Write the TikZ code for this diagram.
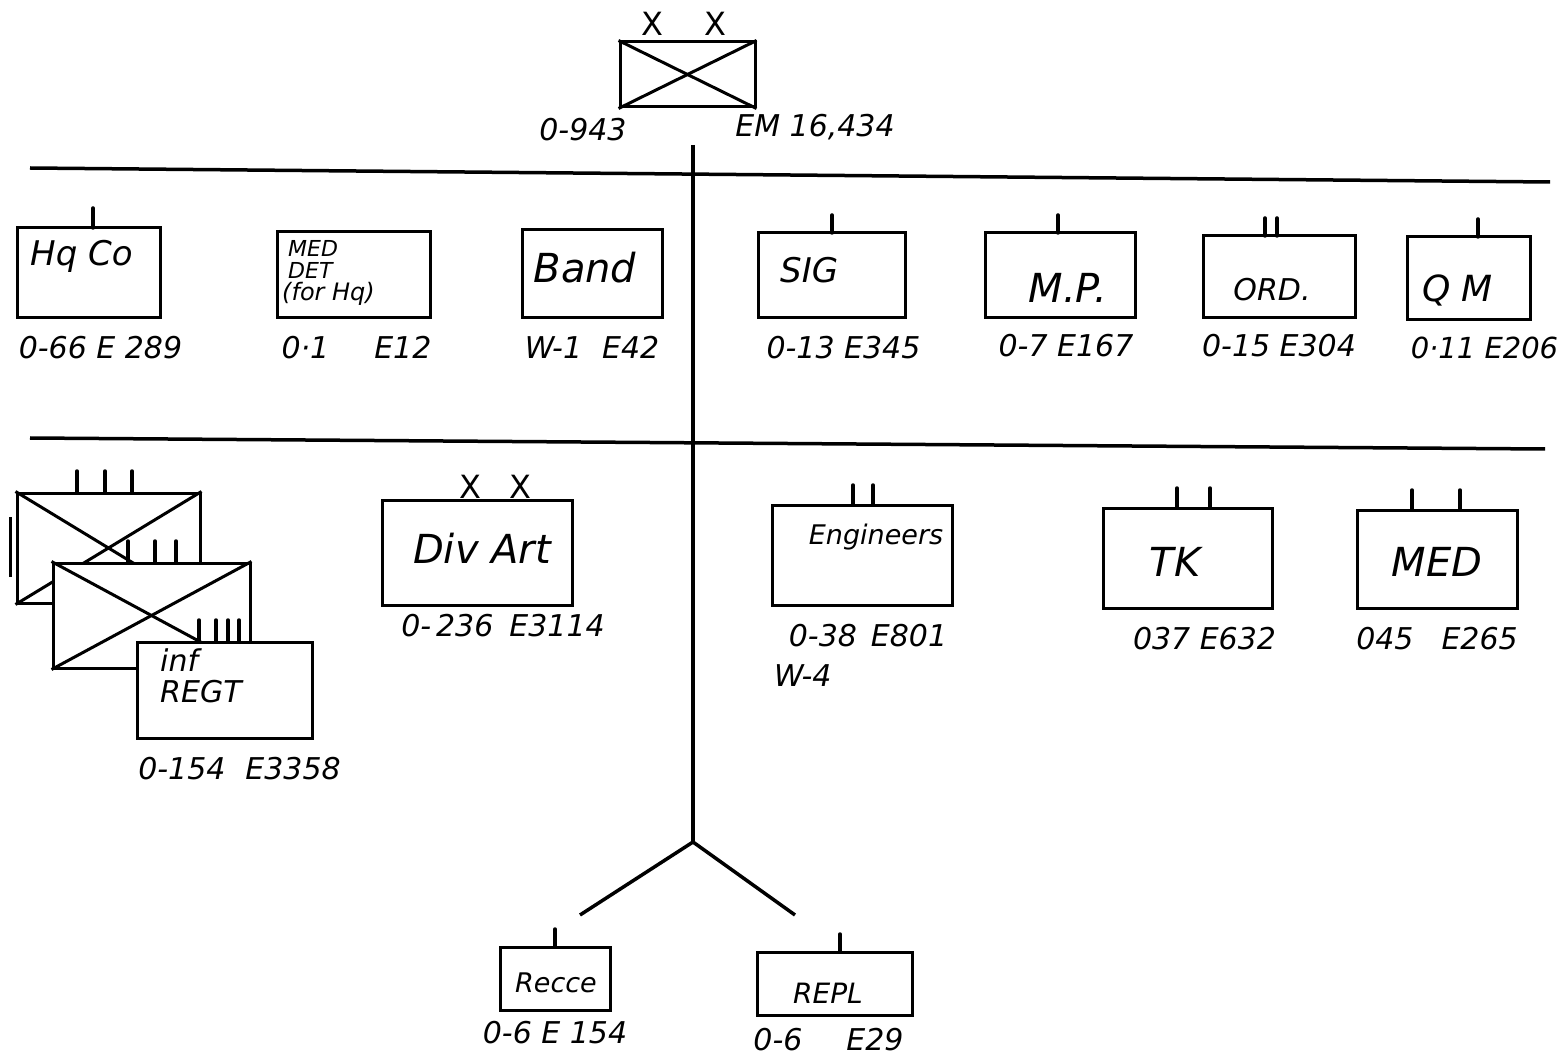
\documentclass[tikz,border=0pt]{standalone}
\usepackage{fontspec}
\setmainfont{DejaVu Sans}
\usetikzlibrary{positioning}
\tikzset{
	unit/.style={
		rectangle,
		draw=black,
		line width=3pt,
		fill=white,
		inner sep=0pt
	},
	boxtext/.style={
		font=\fontsize{36}{40}\selectfont\itshape,
		inner sep=0pt,
		align=left
	},
	smalltext/.style={
		font=\fontsize{22}{22}\selectfont\itshape,
		inner sep=0pt,
		align=left
	},
	strength/.style={
		font=\fontsize{30}{34}\selectfont\itshape,
		inner sep=0pt
	},
	echelon/.style={
		font=\fontsize{32}{34}\selectfont,
		inner sep=0pt
	},
	bar/.style={line width=3.5pt},
	tick/.style={line width=3.5pt, line cap=round},
	line/.style={line width=3pt}
}

\begin{document}
\begin{tikzpicture}[x=1pt, y=-1pt]
	\useasboundingbox[fill=white] (0,0) rectangle (1564,1056);

	% Division
	\node (div) [unit, minimum width=135pt, minimum height=65pt] at (687.5,74.5) {};
	\draw [line] (div.north west) -- (div.south east);
	\draw [line] (div.south west) -- (div.north east);
	\node (divx1) [echelon] at (652,24) {X};
	\node (divx2) [echelon] at (715,24) {X};
	\node (divoff) [strength] at (583,130) {0-943};
	\node (divem) [strength] at (815,127) {EM 16,434};

	% Bars and trunk
	\coordinate (bar1w) at (30,168);
	\coordinate (bar1e) at (1550,182);
	\coordinate (bar2w) at (30,438);
	\coordinate (bar2e) at (1545,449);
	\coordinate (trunk) at (693,145);
	\coordinate (fork) at (693,842);
	\coordinate (forkl) at (580,915);
	\coordinate (forkr) at (795,915);
	\draw [bar] (bar1w) -- (bar1e);
	\draw [bar] (bar2w) -- (bar2e);
	\draw [bar] (trunk) -- (fork);
	\draw [bar] (fork) -- (forkl);
	\draw [bar] (fork) -- (forkr);

	% Special troops
	\node (hqco) [unit, minimum width=143pt, minimum height=90pt] at (88.5,273) {};
	\draw [tick] (93,228) -- ++(0,-20);
	\node (hqcot) [boxtext, font=\fontsize{34}{38}\selectfont\itshape, anchor=west] at (30,256) {Hq Co};
	\node (hqcos) [strength, below=17pt of hqco, xshift=12pt] {0-66 E 289};

	\node (meddet) [unit, minimum width=153pt, minimum height=86pt] at (353.5,275) {};
	\node (meddett) [smalltext, anchor=north west] at (288,240) {MED\\DET\\\hspace{-6pt}{\fontsize{24}{22}\selectfont(for Hq)}};
	\node (meddets) [strength, below=17pt of meddet, xshift=3pt] {0·1\hspace{45pt}E12};

	\node (band) [unit, minimum width=140pt, minimum height=88pt] at (592,274) {};
	\node (bandt) [boxtext, font=\fontsize{40}{44}\selectfont\itshape] at (585,268) {Band};
	\node (bands) [strength, below=17pt of band] {W-1\hspace{20pt}E42};

	\node (sig) [unit, minimum width=147pt, minimum height=85pt] at (831.5,275.5) {};
	\draw [tick] (832,233) -- ++(0,-18);
	\node (sigt) [boxtext, font=\fontsize{34}{38}\selectfont\itshape, anchor=west] at (780,270) {SIG};
	\node (sigs) [strength, below=17pt of sig, xshift=12pt] {0-13 E345};

	\node (mp) [unit, minimum width=150pt, minimum height=85pt] at (1060,275.5) {};
	\draw [tick] (1058,233) -- ++(0,-18);
	\node (mpt) [boxtext, font=\fontsize{40}{44}\selectfont\itshape] at (1068,288) {M.P.};
	\node (mps) [strength, below=15pt of mp, xshift=6pt] {0-7 E167};

	\node (ord) [unit, minimum width=152pt, minimum height=82pt] at (1279,277) {};
	\draw [tick] (1265,236) -- ++(0,-18);
	\draw [tick] (1277,236) -- ++(0,-18);
	\node (ordt) [boxtext, font=\fontsize{30}{34}\selectfont\itshape] at (1272,290) {ORD.};
	\node (ords) [strength, below=15pt of ord] {0-15 E304};

	\node (qm) [unit, minimum width=123pt, minimum height=83pt] at (1468.5,278.5) {};
	\draw [tick] (1478,237) -- ++(0,-18);
	\node (qmt) [boxtext, anchor=west] at (1422,290) {Q M};
	\node (qms) [strength, font=\fontsize{29}{34}\selectfont\itshape, below=15pt of qm, xshift=16pt] {0·11 E206};

	% Infantry regiments
	\draw [line] (10,517) -- (10,577);
	\node (regt1) [unit, minimum width=183pt, minimum height=110pt] at (108.5,548) {};
	\draw [line] (regt1.north west) -- (regt1.south east);
	\draw [line] (regt1.south west) -- (regt1.north east);
	\foreach \x in {77,105,132}
		\draw [tick] (\x,493) -- ++(0,-22);
	\node (regt2) [unit, minimum width=197pt, minimum height=105pt] at (151.5,615.5) {};
	\draw [line] (regt2.north west) -- (regt2.south east);
	\draw [line] (regt2.south west) -- (regt2.north east);
	\foreach \x in {128,155,176}
		\draw [tick] (\x,563) -- ++(0,-22);
	\node (regt3) [unit, minimum width=175pt, minimum height=96pt] at (224.5,690) {};
	\foreach \x in {199,216,228,239}
		\draw [tick] (\x,642) -- ++(0,-22);
	\node (regt3t) [smalltext, font=\fontsize{30}{31}\selectfont\itshape, anchor=north west] at (160,649) {inf\\REGT};
	\node (regts) [strength, below=18pt of regt3, xshift=15pt] {0-154\hspace{20pt}E3358};

	% Division artillery
	\node (divart) [unit, minimum width=190pt, minimum height=105pt] at (477,552.5) {};
	\node (divartx1) [echelon] at (470,487) {X};
	\node (divartx2) [echelon] at (520,487) {X};
	\node (divartt) [boxtext, font=\fontsize{40}{44}\selectfont\itshape] at (482,548) {Div Art};
	\node (divarts) [strength, below=8pt of divart, xshift=26pt] {0-\,236\hspace{16pt}E3114};

	% Engineers, tanks, medical
	\node (engr) [unit, minimum width=180pt, minimum height=100pt] at (862,555) {};
	\draw [tick] (853,505) -- ++(0,-20);
	\draw [tick] (873,505) -- ++(0,-20);
	\node (engrt) [smalltext, font=\fontsize{27}{30}\selectfont\itshape] at (876,537) {Engineers};
	\node (engrs) [strength, below=18pt of engr, xshift=6pt] {0-38\hspace{14pt}E801};
	\node (engrw) [strength, anchor=west] at (774,676) {W-4};

	\node (tk) [unit, minimum width=169pt, minimum height=100pt] at (1187.5,558) {};
	\draw [tick] (1177,508) -- ++(0,-20);
	\draw [tick] (1210,508) -- ++(0,-20);
	\node (tkt) [boxtext, font=\fontsize{40}{44}\selectfont\itshape] at (1175,562) {TK};
	\node (tks) [strength, below=18pt of tk, xshift=17pt] {037 E632};

	\node (med) [unit, minimum width=160pt, minimum height=98pt] at (1437,559) {};
	\draw [tick] (1412,510) -- ++(0,-20);
	\draw [tick] (1460,510) -- ++(0,-20);
	\node (medt) [boxtext, font=\fontsize{40}{44}\selectfont\itshape] at (1437,562) {MED};
	\node (meds) [strength, below=18pt of med] {045\hspace{28pt}E265};

	% Reconnaissance and replacement
	\node (recce) [unit, minimum width=110pt, minimum height=63pt] at (555,978.5) {};
	\draw [tick] (555,947) -- ++(0,-18);
	\node (reccet) [smalltext, font=\fontsize{27}{30}\selectfont\itshape] at (556,983) {Recce};
	\node (recces) [strength, below=10pt of recce] {0-6 E 154};

	\node (repl) [unit, minimum width=155pt, minimum height=63pt] at (834.5,983.5) {};
	\draw [tick] (840,952) -- ++(0,-18);
	\node (replt) [smalltext, font=\fontsize{28}{30}\selectfont\itshape] at (828,993) {REPL};
	\node (repls) [strength, below=12pt of repl, xshift=-6pt] {0-6\hspace{44pt}E29};
\end{tikzpicture}
\end{document}
